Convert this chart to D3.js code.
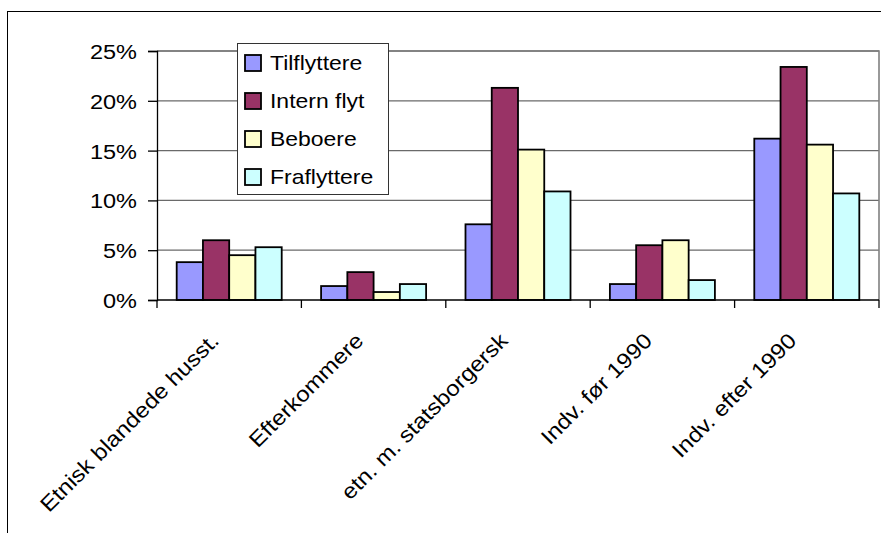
<!DOCTYPE html>
<html>
<head>
<meta charset="utf-8">
<script src="https://cdn.jsdelivr.net/npm/d3@7"></script>
<style>
  body { margin: 0; background: #fff; }
  text { font-family: "Liberation Sans", Arial, sans-serif; fill: #000; }
</style>
</head>
<body>
<div id="chart"></div>
<script>
// data (percent)
var categories = ["Etnisk blandede husst.", "Efterkommere", "etn. m. statsborgersk", "Indv. før 1990", "Indv. efter 1990"];
var seriesNames = ["Tilflyttere", "Intern flyt", "Beboere", "Fraflyttere"];
var tilflyttere = [3.8, 1.4, 7.6, 1.6, 16.2];
var internFlyt = [6.0, 2.8, 21.3, 5.5, 23.4];
var beboere = [4.5, 0.8, 15.1, 6.0, 15.6];
var fraflyttere = [5.3, 1.6, 10.9, 2.0, 10.7];
var yTicks = [0, 5, 10, 15, 20, 25];
var colors = ["#9999ff", "#993366", "#ffffcc", "#ccffff"];

var seriesValues = [tilflyttere, internFlyt, beboere, fraflyttere];

var W = 881, H = 533;
var plot = { left: 157, right: 879, top: 51, bottom: 300 };
var stretch = 1.12; // the original text is a bit wider than the font

var svg = d3.select("#chart")
    .append("svg")
    .attr("width", W)
    .attr("height", H);

// outer chart border (runs past the window on right and bottom)
svg.append("rect")
    .attr("x", 7.5).attr("y", 11.5)
    .attr("width", 900).attr("height", 600)
    .attr("fill", "#fff")
    .attr("stroke", "#000")
    .attr("stroke-width", 1);

var x0 = d3.scaleBand()
    .domain(categories)
    .range([plot.left, plot.right])
    .paddingInner(0).paddingOuter(0);

var x1 = d3.scaleBand()
    .domain(seriesNames)
    .range([0, x0.bandwidth()])
    .paddingInner(0).paddingOuter(0.75);

var y = d3.scaleLinear()
    .domain([0, 25])
    .range([plot.bottom, plot.top]);

// gridlines
svg.append("g")
    .selectAll("line")
    .data(yTicks.filter(function (d) { return d > 0; }))
    .enter()
    .append("line")
    .attr("x1", plot.left).attr("x2", plot.right)
    .attr("y1", function (d) { return y(d); })
    .attr("y2", function (d) { return y(d); })
    .attr("stroke", "#6a6a6a")
    .attr("stroke-width", 1.3);

// plot area border top/right (gray)
svg.append("path")
    .attr("d", "M" + plot.left + "," + y(25) + "H" + plot.right + "V" + plot.bottom)
    .attr("fill", "none")
    .attr("stroke", "#808080")
    .attr("stroke-width", 1.6);

// bars
var rows = categories.map(function (c, i) {
    return { cat: c, vals: seriesNames.map(function (s, j) { return { name: s, v: seriesValues[j][i], k: j }; }) };
});

svg.append("g")
    .selectAll("g")
    .data(rows)
    .enter()
    .append("g")
    .attr("transform", function (d) { return "translate(" + x0(d.cat) + ",0)"; })
    .selectAll("rect")
    .data(function (d) { return d.vals; })
    .enter()
    .append("rect")
    .attr("x", function (d) { return x1(d.name); })
    .attr("y", function (d) { return y(d.v); })
    .attr("width", x1.bandwidth())
    .attr("height", function (d) { return y(0) - y(d.v); })
    .attr("fill", function (d) { return colors[d.k]; })
    .attr("stroke", "#000")
    .attr("stroke-width", 1.8);

// Y axis
var yAxis = svg.append("g")
    .attr("transform", "translate(" + plot.left + ",0)")
    .call(d3.axisLeft(y).tickValues(yTicks).tickSize(9).tickFormat(""));
yAxis.select(".domain").attr("stroke", "#000").attr("stroke-width", 1.3);
yAxis.selectAll(".tick line").attr("stroke", "#000").attr("stroke-width", 1.3);

svg.append("g")
    .selectAll("text")
    .data(yTicks)
    .enter()
    .append("text")
    .attr("transform", function (d) {
        return "translate(137," + (y(d) + 8) + ") scale(" + stretch + ",1)";
    })
    .attr("text-anchor", "end")
    .style("font-size", "21px")
    .text(function (d) { return d + "%"; });

// X axis line and boundary ticks
var xAxis = svg.append("g")
    .attr("transform", "translate(0," + plot.bottom + ")");
xAxis.append("line")
    .attr("x1", plot.left).attr("x2", plot.right)
    .attr("stroke", "#000").attr("stroke-width", 1.3);
var bounds = categories.map(function (c) { return x0(c); }).concat([plot.right]);
xAxis.selectAll(".bt")
    .data(bounds)
    .enter()
    .append("line")
    .attr("x1", function (d) { return d; })
    .attr("x2", function (d) { return d; })
    .attr("y1", 0).attr("y2", 8)
    .attr("stroke", "#000").attr("stroke-width", 1.3);

// rotated category labels
svg.append("g")
    .selectAll("text")
    .data(categories)
    .enter()
    .append("text")
    .attr("transform", function (d) {
        return "translate(" + (x0(d) + x0.bandwidth() / 2 - 9) + ",342) rotate(-45) scale(" + stretch + ",1)";
    })
    .attr("text-anchor", "end")
    .style("font-size", "21.5px")
    .text(function (d) { return d; });

// legend
var legend = svg.append("g");
legend.append("rect")
    .attr("x", 237.5).attr("y", 43.5)
    .attr("width", 151).attr("height", 151)
    .attr("fill", "#fff")
    .attr("stroke", "#333")
    .attr("stroke-width", 1);

var item = legend.selectAll(".item")
    .data(seriesNames)
    .enter()
    .append("g")
    .attr("transform", function (d, i) { return "translate(245," + (63 + i * 38) + ")"; });
item.append("rect")
    .attr("x", 0).attr("y", -8)
    .attr("width", 16).attr("height", 16)
    .attr("fill", function (d, i) { return colors[i]; })
    .attr("stroke", "#000")
    .attr("stroke-width", 1.8);
item.append("text")
    .attr("transform", "translate(25,6.5) scale(" + stretch + ",1)")
    .style("font-size", "20.5px")
    .text(function (d) { return d; });
</script>
</body>
</html>
